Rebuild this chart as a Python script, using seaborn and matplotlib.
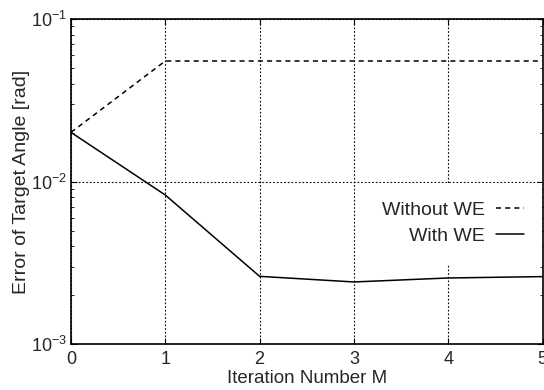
import pandas as pd
import matplotlib.pyplot as plt
import seaborn as sns
from matplotlib.ticker import LogLocator, NullFormatter

iteracoes = [0, 1, 2, 3, 4, 5]
sem_we = [0.0201, 0.0552, 0.0552, 0.0552, 0.0552, 0.0552]
com_we = [0.0201, 0.00828, 0.00262, 0.00242, 0.00256, 0.00261]

df = pd.concat([
    pd.DataFrame({'M': iteracoes, 'erro': sem_we, 'serie': 'Without WE'}),
    pd.DataFrame({'M': iteracoes, 'erro': com_we, 'serie': 'With WE'}),
])

sns.set_style('ticks')
plt.rcParams['font.family'] = ['Liberation Sans', 'DejaVu Sans']

fig = plt.figure(figsize=(5.44, 3.9), dpi=100)
# eixo posicionado como na figura original
ax = fig.add_axes([71 / 544, 1 - 344.4 / 390, 471.5 / 544, 325.4 / 390])

sns.lineplot(data=df, x='M', y='erro', style='serie', color='black', linewidth=1.1,
             dashes={'Without WE': (3.3, 2.7), 'With WE': ''}, ax=ax)

ax.set_yscale('log')
ax.set_xlim(0, 5)
ax.set_ylim(1e-3, 1e-1)
ax.yaxis.set_major_locator(LogLocator(base=10, numticks=5))
ax.yaxis.set_minor_locator(LogLocator(base=10, subs=range(2, 10), numticks=20))
ax.yaxis.set_minor_formatter(NullFormatter())
ax.set_xticks(iteracoes)
ax.grid(True, which='major', color='black', linestyle=(0, (1.5, 1.8)), linewidth=0.8)
ax.tick_params(which='both', direction='in', top=True, right=True, labelsize=13, color='black')
ax.tick_params(which='major', length=4)
ax.tick_params(which='minor', length=2.5)
ax.tick_params(axis='x', pad=5)
ax.tick_params(axis='y', pad=3)
for s in ax.spines.values():
    s.set_linewidth(1.2)
    s.set_color('black')

ax.set_xlabel('Iteration Number M', fontsize=13.5)
ax.set_ylabel('Error of Target Angle [rad]', fontsize=14)
ax.xaxis.set_label_coords(0.5, -0.079)
ax.yaxis.set_label_coords(-0.088, 0.5)

leg = ax.legend(frameon=True, markerfirst=False, fontsize=14, loc='upper right',
                bbox_to_anchor=(0.999, 0.497), borderaxespad=0, handlelength=1.4,
                handletextpad=0.6, labelspacing=0.45, borderpad=0.95, fancybox=False)
leg.get_frame().set_facecolor('white')
leg.get_frame().set_edgecolor('none')
leg.get_frame().set_alpha(1)

fig.savefig('out.png', dpi=100)
